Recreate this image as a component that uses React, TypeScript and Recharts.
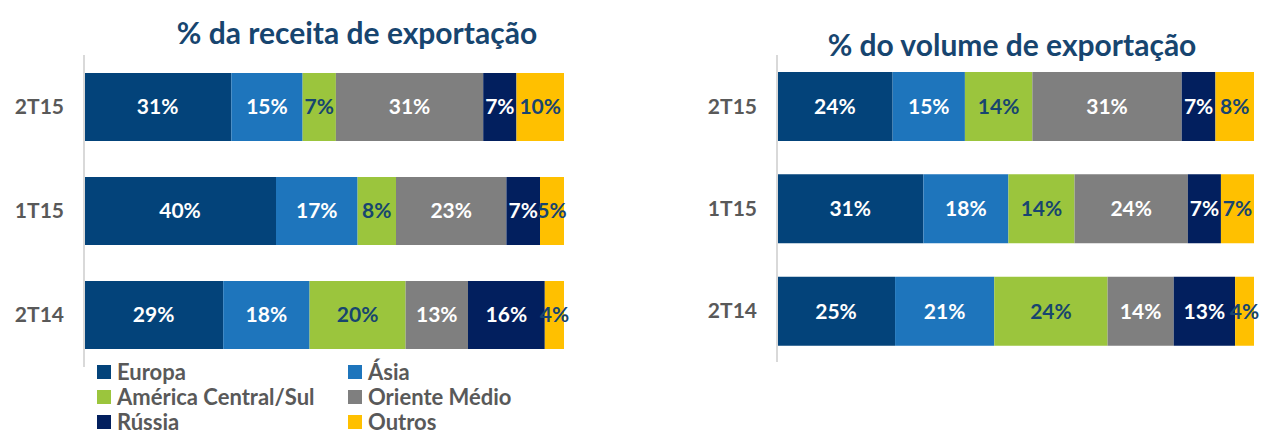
import { BarChart, Bar, XAxis, YAxis, LabelList } from 'recharts'

const categories = ['2T15', '1T15', '2T14']

const seriesNames = ['Europa', 'Ásia', 'América Central/Sul', 'Oriente Médio', 'Rússia', 'Outros']
const seriesKeys = ['europa', 'asia', 'america', 'oriente', 'russia', 'outros']
const seriesColors = ['#03437A', '#1E75BC', '#9BC53D', '#7F7F7F', '#021F5E', '#FFC000']
const labelColors = ['#ffffff', '#ffffff', '#17456F', '#ffffff', '#ffffff', '#17456F']

// % da receita de exportação, one value per category
const receitaEuropa = [31, 40, 29]
const receitaAsia = [15, 17, 18]
const receitaAmerica = [7, 8, 20]
const receitaOriente = [31, 23, 13]
const receitaRussia = [7, 7, 16]
const receitaOutros = [10, 5, 4]

// % do volume de exportação
const volumeEuropa = [24, 31, 25]
const volumeAsia = [15, 18, 21]
const volumeAmerica = [14, 14, 24]
const volumeOriente = [31, 24, 14]
const volumeRussia = [7, 7, 13]
const volumeOutros = [8, 7, 4]

const FONT = 'Lato, "Open Sans", sans-serif'
const TITLE_COLOR = '#17456F'
const GRAY = '#595959'

function buildRows(cols: number[][]) {
  return categories.map((name, i) => {
    const row: Record<string, string | number> = { name }
    seriesKeys.forEach((k, s) => { row[k] = cols[s][i] })
    return row
  })
}

const receitaData = buildRows([receitaEuropa, receitaAsia, receitaAmerica, receitaOriente, receitaRussia, receitaOutros])
const volumeData = buildRows([volumeEuropa, volumeAsia, volumeAmerica, volumeOriente, volumeRussia, volumeOutros])

function StackedChart({ data, width, height, margin, yWidth, barSize }: {
  data: Record<string, string | number>[]
  width: number
  height: number
  margin: { top: number; right: number; bottom: number; left: number }
  yWidth: number
  barSize: number
}) {
  return (
    <BarChart layout="vertical" data={data} width={width} height={height} margin={margin} stackOffset="expand" barCategoryGap={0}>
      <XAxis type="number" hide domain={[0, 1]} />
      <YAxis
        type="category"
        dataKey="name"
        width={yWidth}
        tickLine={false}
        tickSize={0}
        tickMargin={20}
        axisLine={{ stroke: '#D9D9D9', strokeWidth: 2 }}
        tick={{ fill: GRAY, fontSize: 21, fontWeight: 700, fontFamily: FONT }}
      />
      {seriesKeys.map((k, s) => (
        <Bar key={k} dataKey={k} stackId="a" fill={seriesColors[s]} barSize={barSize} isAnimationActive={false}>
          <LabelList
            dataKey={k}
            position="center"
            formatter={(v: any) => `${v}%`}
            style={{ fill: labelColors[s], fontSize: 21, fontWeight: 700, fontFamily: FONT }}
          />
        </Bar>
      ))}
    </BarChart>
  )
}

export default function App() {
  return (
    <div style={{ position: 'absolute', left: 0, top: 0, width: 1273, height: 435, background: '#fff', fontFamily: FONT, overflow: 'hidden' }}>
      <div style={{ position: 'absolute', left: 0, top: 0 }}>
        <StackedChart data={receitaData} width={640} height={435} margin={{ top: 55, right: 76, bottom: 68, left: 0 }} yWidth={84} barSize={68} />
      </div>
      <div style={{ position: 'absolute', left: 640, top: 0 }}>
        <StackedChart data={volumeData} width={633} height={435} margin={{ top: 55, right: 19, bottom: 73, left: 0 }} yWidth={137} barSize={69} />
      </div>

      <div style={{ position: 'absolute', left: 100, width: 514, top: 12, textAlign: 'center', color: TITLE_COLOR, fontSize: 30, fontWeight: 700, lineHeight: '40px' }}>
        % da receita de exportação
      </div>
      <div style={{ position: 'absolute', left: 755, width: 514, top: 24, textAlign: 'center', color: TITLE_COLOR, fontSize: 30, fontWeight: 700, lineHeight: '40px' }}>
        % do volume de exportação
      </div>

      <div style={{ position: 'absolute', left: 97, top: 359, display: 'grid', gridTemplateColumns: '251px 240px', rowGap: 0 }}>
        {seriesNames.map((n, s) => (
          <div key={n} style={{ display: 'flex', alignItems: 'center', height: 25, lineHeight: '22px', color: GRAY, fontSize: 22, fontWeight: 700 }}>
            <span style={{ display: 'inline-block', width: 14, height: 14, background: seriesColors[s], marginRight: 6 }} />
            {n}
          </div>
        ))}
      </div>
    </div>
  )
}
